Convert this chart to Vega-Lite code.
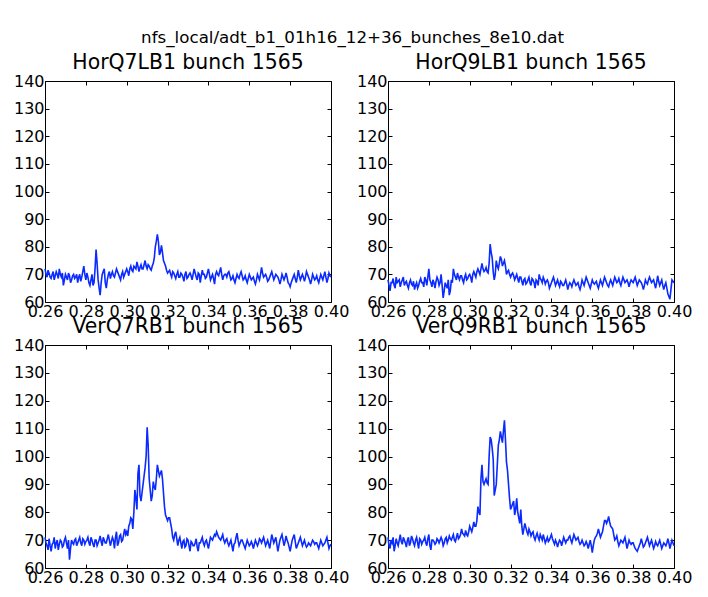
{
"$schema": "https://vega.github.io/schema/vega-lite/v6.json",
"padding": {"left": 12, "top": 29, "right": 5, "bottom": 5},
"background": "white",
"title": {"text": "nfs_local/adt_b1_01h16_12+36_bunches_8e10.dat", "fontSize": 16.7, "anchor": "middle", "baseline": "alphabetic", "offset": -6.7},
"data": {"values": [
{"x":0.260,"a":72,"b":68,"c":71,"d":71},
{"x":0.261,"a":69,"b":64,"c":68,"d":67},
{"x":0.262,"a":70.5,"b":67,"c":70.5,"d":69},
{"x":0.263,"a":68.5,"b":66,"c":66,"d":66},
{"x":0.264,"a":71,"b":69,"c":69,"d":70.5},
{"x":0.265,"a":69.5,"b":67.5,"c":67,"d":68},
{"x":0.266,"a":70,"b":65.5,"c":70,"d":72},
{"x":0.267,"a":72,"b":68,"c":68.5,"d":68.5},
{"x":0.268,"a":69,"b":66,"c":69.5,"d":70},
{"x":0.269,"a":66,"b":67.5,"c":68,"d":67.5},
{"x":0.270,"a":70,"b":65,"c":71,"d":71},
{"x":0.271,"a":68,"b":68,"c":67,"d":69},
{"x":0.272,"a":69.5,"b":66,"c":63,"d":70.5},
{"x":0.273,"a":68,"b":64.5,"c":70,"d":68},
{"x":0.274,"a":70,"b":67,"c":68.5,"d":71},
{"x":0.275,"a":69,"b":66,"c":70.5,"d":67},
{"x":0.276,"a":67,"b":68.5,"c":69,"d":70},
{"x":0.277,"a":70,"b":67,"c":71,"d":69.5},
{"x":0.278,"a":69,"b":69,"c":68,"d":71},
{"x":0.279,"a":73,"b":66,"c":70,"d":68},
{"x":0.280,"a":68,"b":72,"c":69.5,"d":72},
{"x":0.281,"a":69,"b":67,"c":71,"d":66.5},
{"x":0.282,"a":66,"b":68,"c":68,"d":70},
{"x":0.283,"a":70,"b":65,"c":70,"d":68.5},
{"x":0.284,"a":67,"b":69,"c":67.5,"d":70.5},
{"x":0.285,"a":79,"b":66,"c":70,"d":69},
{"x":0.286,"a":68,"b":70,"c":69,"d":71},
{"x":0.287,"a":62.5,"b":61.5,"c":71.5,"d":68},
{"x":0.288,"a":70,"b":67,"c":68,"d":70.5},
{"x":0.289,"a":72,"b":65,"c":70,"d":69},
{"x":0.290,"a":65,"b":62.5,"c":69,"d":71.5},
{"x":0.291,"a":70,"b":68,"c":72,"d":70},
{"x":0.292,"a":68.5,"b":72,"c":68,"d":72},
{"x":0.293,"a":71,"b":69,"c":71,"d":69.5},
{"x":0.294,"a":69,"b":70.5,"c":67,"d":72.5},
{"x":0.295,"a":72,"b":68,"c":73,"d":71},
{"x":0.296,"a":70,"b":69.5,"c":69,"d":74},
{"x":0.297,"a":68,"b":67,"c":72,"d":72},
{"x":0.298,"a":71,"b":70,"c":70,"d":73.5},
{"x":0.299,"a":70,"b":68.5,"c":74,"d":71.5},
{"x":0.300,"a":72,"b":70,"c":73,"d":75},
{"x":0.301,"a":69.5,"b":67,"c":75,"d":73},
{"x":0.302,"a":73,"b":71,"c":78,"d":76.5},
{"x":0.303,"a":71,"b":69,"c":74,"d":75},
{"x":0.304,"a":72.5,"b":72,"c":88,"d":82},
{"x":0.305,"a":74.5,"b":70,"c":81,"d":79},
{"x":0.306,"a":71,"b":74,"c":97,"d":97},
{"x":0.307,"a":73.5,"b":71,"c":84,"d":90},
{"x":0.308,"a":72,"b":72.5,"c":90,"d":92},
{"x":0.309,"a":75,"b":70.5,"c":96,"d":90},
{"x":0.310,"a":72,"b":81,"c":110.5,"d":107},
{"x":0.311,"a":73,"b":76,"c":92,"d":103},
{"x":0.312,"a":71.5,"b":68,"c":84,"d":86},
{"x":0.313,"a":74,"b":75,"c":91,"d":90},
{"x":0.314,"a":80,"b":72,"c":88,"d":104},
{"x":0.315,"a":84.5,"b":76.5,"c":97,"d":109},
{"x":0.316,"a":77,"b":73,"c":93,"d":105},
{"x":0.317,"a":80.5,"b":75,"c":95,"d":113},
{"x":0.318,"a":75,"b":70,"c":87,"d":98},
{"x":0.319,"a":73,"b":71.5,"c":79,"d":90},
{"x":0.320,"a":70.5,"b":69,"c":77,"d":81},
{"x":0.321,"a":71.5,"b":70.5,"c":78,"d":83},
{"x":0.322,"a":69,"b":68,"c":74,"d":79},
{"x":0.323,"a":70.5,"b":70,"c":70,"d":85},
{"x":0.324,"a":68.5,"b":67,"c":73,"d":78},
{"x":0.325,"a":71,"b":69,"c":68,"d":81},
{"x":0.326,"a":69,"b":66,"c":71,"d":72},
{"x":0.327,"a":70,"b":68.5,"c":67,"d":76},
{"x":0.328,"a":67.5,"b":67,"c":70,"d":73},
{"x":0.329,"a":71,"b":69,"c":68,"d":74},
{"x":0.330,"a":69,"b":66,"c":70,"d":71.5},
{"x":0.331,"a":70.5,"b":68,"c":66,"d":73},
{"x":0.332,"a":68,"b":65,"c":69,"d":70},
{"x":0.333,"a":72,"b":67.5,"c":68,"d":72.5},
{"x":0.334,"a":69,"b":70,"c":70.5,"d":70},
{"x":0.335,"a":70.5,"b":68,"c":66,"d":71},
{"x":0.336,"a":67,"b":69,"c":69,"d":72},
{"x":0.337,"a":71.5,"b":66.5,"c":71,"d":69},
{"x":0.338,"a":70,"b":68,"c":68,"d":71},
{"x":0.339,"a":69,"b":65,"c":70,"d":70},
{"x":0.340,"a":72,"b":67,"c":67,"d":72},
{"x":0.341,"a":68,"b":69,"c":71,"d":69.5},
{"x":0.342,"a":70,"b":66,"c":70,"d":70},
{"x":0.343,"a":66.5,"b":68,"c":72,"d":67.5},
{"x":0.344,"a":71,"b":65.5,"c":73,"d":70},
{"x":0.345,"a":69.5,"b":67,"c":71,"d":68},
{"x":0.346,"a":72.5,"b":66,"c":70,"d":71},
{"x":0.347,"a":68,"b":68,"c":72,"d":69},
{"x":0.348,"a":70,"b":64.5,"c":69,"d":70},
{"x":0.349,"a":69,"b":67,"c":70.5,"d":71.5},
{"x":0.350,"a":71,"b":65.5,"c":68,"d":69},
{"x":0.351,"a":68,"b":68,"c":70,"d":72},
{"x":0.352,"a":69.5,"b":66,"c":66,"d":70},
{"x":0.353,"a":67,"b":67,"c":69,"d":71},
{"x":0.354,"a":70,"b":64.5,"c":72.5,"d":68.5},
{"x":0.355,"a":68.5,"b":68,"c":68,"d":70},
{"x":0.356,"a":71,"b":66,"c":70,"d":68},
{"x":0.357,"a":68,"b":69,"c":69,"d":69.5},
{"x":0.358,"a":69.5,"b":67,"c":67,"d":67},
{"x":0.359,"a":67,"b":65,"c":70,"d":70},
{"x":0.360,"a":70,"b":68,"c":68,"d":65.5},
{"x":0.361,"a":68,"b":66.5,"c":69.5,"d":70},
{"x":0.362,"a":69,"b":67.5,"c":67,"d":71.5},
{"x":0.363,"a":66.5,"b":65,"c":70,"d":74},
{"x":0.364,"a":70,"b":68,"c":68,"d":71},
{"x":0.365,"a":68,"b":66,"c":70.5,"d":73},
{"x":0.366,"a":72.5,"b":69,"c":69,"d":77},
{"x":0.367,"a":69,"b":67,"c":71,"d":76},
{"x":0.368,"a":70,"b":65.5,"c":68,"d":78.5},
{"x":0.369,"a":67.5,"b":68,"c":70,"d":75},
{"x":0.370,"a":69,"b":66,"c":67,"d":74},
{"x":0.371,"a":71,"b":69,"c":72,"d":70},
{"x":0.372,"a":68,"b":67,"c":69,"d":71.5},
{"x":0.373,"a":70,"b":68.5,"c":71,"d":68},
{"x":0.374,"a":69,"b":66,"c":66,"d":70},
{"x":0.375,"a":66.5,"b":69,"c":70,"d":69},
{"x":0.376,"a":70,"b":67,"c":72,"d":71},
{"x":0.377,"a":68,"b":68,"c":68,"d":67},
{"x":0.378,"a":70.5,"b":65.5,"c":71.5,"d":70},
{"x":0.379,"a":67,"b":68,"c":69,"d":68.5},
{"x":0.380,"a":65.5,"b":67,"c":66,"d":69},
{"x":0.381,"a":68,"b":69,"c":70,"d":67},
{"x":0.382,"a":70,"b":66,"c":72,"d":66},
{"x":0.383,"a":67,"b":68,"c":67,"d":68},
{"x":0.384,"a":71.5,"b":67,"c":69,"d":70.5},
{"x":0.385,"a":68,"b":64.5,"c":71,"d":67.5},
{"x":0.386,"a":70,"b":68,"c":68,"d":69},
{"x":0.387,"a":67.5,"b":66.5,"c":70,"d":71},
{"x":0.388,"a":71,"b":69,"c":67.5,"d":68},
{"x":0.389,"a":69,"b":67,"c":69,"d":70},
{"x":0.390,"a":66.5,"b":68,"c":68,"d":67},
{"x":0.391,"a":70,"b":65,"c":70,"d":69.5},
{"x":0.392,"a":68,"b":69.5,"c":68.5,"d":68},
{"x":0.393,"a":69.5,"b":66,"c":69,"d":70},
{"x":0.394,"a":67,"b":68,"c":67,"d":67},
{"x":0.395,"a":70,"b":64.5,"c":70,"d":69},
{"x":0.396,"a":68,"b":67,"c":68,"d":68},
{"x":0.397,"a":71,"b":63,"c":69,"d":70.5},
{"x":0.398,"a":67,"b":61,"c":71,"d":67},
{"x":0.399,"a":70.5,"b":68,"c":67,"d":70},
{"x":0.400,"a":69,"b":67,"c":68.5,"d":68},
{"x":0.2605,"a":70,"b":66,"c":69,"d":68},
{"x":0.2615,"a":71.5,"b":67,"c":66.5,"d":70},
{"x":0.2625,"a":69,"b":68.5,"c":68,"d":71},
{"x":0.2635,"a":70,"b":65,"c":68.5,"d":68},
{"x":0.2645,"a":68,"b":67,"c":71,"d":69},
{"x":0.2655,"a":71,"b":68,"c":69,"d":70},
{"x":0.2665,"a":68.5,"b":67,"c":66.5,"d":69.5},
{"x":0.2675,"a":70,"b":69,"c":70,"d":71},
{"x":0.2685,"a":70.5,"b":67,"c":67.5,"d":69},
{"x":0.2695,"a":68,"b":66,"c":70,"d":70},
{"x":0.2705,"a":69,"b":67,"c":69,"d":68},
{"x":0.2715,"a":70.5,"b":66.5,"c":70,"d":71.5},
{"x":0.2725,"a":67,"b":67.5,"c":67,"d":69},
{"x":0.2735,"a":69.5,"b":66,"c":69,"d":70},
{"x":0.2745,"a":68.5,"b":65,"c":70,"d":69},
{"x":0.2755,"a":70,"b":67.5,"c":68,"d":70.5},
{"x":0.2765,"a":69,"b":67,"c":70,"d":68.5},
{"x":0.2775,"a":67.5,"b":65.5,"c":69,"d":70},
{"x":0.2785,"a":71,"b":68,"c":70.5,"d":69},
{"x":0.2795,"a":70,"b":69,"c":68.5,"d":70.5},
{"x":0.2805,"a":70.5,"b":68,"c":70,"d":68},
{"x":0.2815,"a":67,"b":65.5,"c":69,"d":70},
{"x":0.2825,"a":68,"b":67,"c":71,"d":69.5},
{"x":0.2835,"a":66,"b":67.5,"c":68.5,"d":69},
{"x":0.2845,"a":72,"b":68,"c":70,"d":70},
{"x":0.2855,"a":74,"b":67,"c":68,"d":70},
{"x":0.2865,"a":65,"b":66,"c":70,"d":70},
{"x":0.2875,"a":67,"b":64,"c":69.5,"d":69},
{"x":0.2885,"a":71,"b":66,"c":71,"d":71},
{"x":0.2895,"a":67,"b":68,"c":69,"d":70},
{"x":0.2905,"a":68,"b":64,"c":70.5,"d":70.5},
{"x":0.2915,"a":71,"b":67,"c":70,"d":71},
{"x":0.2925,"a":70,"b":70,"c":69.5,"d":70},
{"x":0.2935,"a":69.5,"b":68,"c":70,"d":71},
{"x":0.2945,"a":70.5,"b":69,"c":71,"d":70.5},
{"x":0.2955,"a":71,"b":69.5,"c":68,"d":72},
{"x":0.2965,"a":69,"b":68,"c":71.5,"d":72.5},
{"x":0.2975,"a":70,"b":69,"c":69.5,"d":71.5},
{"x":0.2985,"a":69,"b":68,"c":72,"d":72},
{"x":0.2995,"a":71,"b":69.5,"c":72,"d":73},
{"x":0.3005,"a":71,"b":69,"c":71.5,"d":74},
{"x":0.3015,"a":72,"b":70,"c":76,"d":74.5},
{"x":0.3025,"a":71.5,"b":70,"c":77.5,"d":75},
{"x":0.3035,"a":73,"b":71,"c":80,"d":77},
{"x":0.3045,"a":72,"b":71,"c":85,"d":80},
{"x":0.3055,"a":73,"b":72,"c":94,"d":92},
{"x":0.3065,"a":72.5,"b":72,"c":86,"d":91},
{"x":0.3075,"a":72,"b":71.5,"c":87,"d":91},
{"x":0.3085,"a":73.5,"b":71,"c":93,"d":90.5},
{"x":0.3095,"a":73,"b":74,"c":100,"d":100},
{"x":0.3105,"a":73.5,"b":78,"c":104,"d":106},
{"x":0.3115,"a":72,"b":71,"c":88,"d":99},
{"x":0.3125,"a":73,"b":70,"c":86,"d":88},
{"x":0.3135,"a":76,"b":73,"c":89,"d":97},
{"x":0.3145,"a":82,"b":74,"c":92,"d":106},
{"x":0.3155,"a":82,"b":75.5,"c":95,"d":107},
{"x":0.3165,"a":78,"b":74,"c":94,"d":109},
{"x":0.3175,"a":78,"b":73,"c":92,"d":106},
{"x":0.3185,"a":74,"b":71,"c":82,"d":95},
{"x":0.3195,"a":71.5,"b":70,"c":78,"d":85},
{"x":0.3205,"a":71,"b":70,"c":78,"d":82},
{"x":0.3215,"a":70,"b":69.5,"c":76,"d":84},
{"x":0.3225,"a":71,"b":69,"c":71,"d":81},
{"x":0.3235,"a":69.5,"b":68.5,"c":72,"d":80},
{"x":0.3245,"a":70,"b":69,"c":70.5,"d":76},
{"x":0.3255,"a":69,"b":67.5,"c":70,"d":75},
{"x":0.3265,"a":70.5,"b":68,"c":69,"d":74},
{"x":0.3275,"a":69,"b":66.5,"c":69.5,"d":74.5},
{"x":0.3285,"a":70,"b":68,"c":67.5,"d":72},
{"x":0.3295,"a":68.5,"b":67,"c":70.5,"d":73},
{"x":0.3305,"a":70,"b":68.5,"c":68,"d":72.5},
{"x":0.3315,"a":69.5,"b":67,"c":69.5,"d":71},
{"x":0.3325,"a":70,"b":68,"c":68,"d":71.5},
{"x":0.3335,"a":70.5,"b":66,"c":69,"d":71},
{"x":0.3345,"a":68,"b":68.5,"c":67.5,"d":72},
{"x":0.3355,"a":70,"b":67,"c":69,"d":70},
{"x":0.3365,"a":69.5,"b":68,"c":70,"d":70.5},
{"x":0.3375,"a":70,"b":67.5,"c":69,"d":70},
{"x":0.3385,"a":68.5,"b":67,"c":69.5,"d":69.5},
{"x":0.3395,"a":70.5,"b":66,"c":68.5,"d":71},
{"x":0.3405,"a":70,"b":68,"c":69,"d":70.5},
{"x":0.3415,"a":69,"b":67.5,"c":70.5,"d":68.5},
{"x":0.3425,"a":68.5,"b":67,"c":71,"d":69},
{"x":0.3435,"a":70,"b":66.5,"c":71.5,"d":69},
{"x":0.3445,"a":70,"b":67.5,"c":72,"d":69.5},
{"x":0.3455,"a":71,"b":66,"c":70.5,"d":69.5},
{"x":0.3465,"a":70,"b":67,"c":71,"d":70},
{"x":0.3475,"a":69.5,"b":66.5,"c":70,"d":70},
{"x":0.3485,"a":70,"b":66,"c":70,"d":71},
{"x":0.3495,"a":70.5,"b":66.5,"c":69,"d":70},
{"x":0.3505,"a":69.5,"b":67,"c":69,"d":70.5},
{"x":0.3515,"a":68.5,"b":67,"c":68,"d":71},
{"x":0.3525,"a":68,"b":66.5,"c":68.5,"d":70.5},
{"x":0.3535,"a":68.5,"b":65.5,"c":71,"d":69.5},
{"x":0.3545,"a":69,"b":66,"c":70,"d":69},
{"x":0.3555,"a":70,"b":67,"c":69,"d":69},
{"x":0.3565,"a":69.5,"b":67.5,"c":70,"d":68.5},
{"x":0.3575,"a":68.5,"b":68,"c":68,"d":68.5},
{"x":0.3585,"a":68,"b":66,"c":68.5,"d":68.5},
{"x":0.3595,"a":68.5,"b":66.5,"c":69,"d":68},
{"x":0.3605,"a":69,"b":67,"c":68.5,"d":68},
{"x":0.3615,"a":68.5,"b":67,"c":68.5,"d":71},
{"x":0.3625,"a":67.5,"b":66,"c":68.5,"d":72.5},
{"x":0.3635,"a":68,"b":66.5,"c":69,"d":72.5},
{"x":0.3645,"a":69,"b":67,"c":69,"d":72},
{"x":0.3655,"a":70,"b":67.5,"c":70,"d":75},
{"x":0.3665,"a":70.5,"b":68,"c":70,"d":77},
{"x":0.3675,"a":69.5,"b":66,"c":69.5,"d":77},
{"x":0.3685,"a":69,"b":67,"c":69,"d":76.5},
{"x":0.3695,"a":68,"b":67,"c":68.5,"d":74.5},
{"x":0.3705,"a":70,"b":67.5,"c":69.5,"d":72},
{"x":0.3715,"a":69.5,"b":68,"c":70.5,"d":70.5},
{"x":0.3725,"a":69,"b":67.5,"c":70,"d":69.5},
{"x":0.3735,"a":69.5,"b":67,"c":68.5,"d":69},
{"x":0.3745,"a":68,"b":67.5,"c":68,"d":69.5},
{"x":0.3755,"a":68,"b":68,"c":71,"d":70},
{"x":0.3765,"a":69,"b":67.5,"c":70,"d":69},
{"x":0.3775,"a":69,"b":67,"c":69.5,"d":68.5},
{"x":0.3785,"a":69,"b":67,"c":70,"d":69},
{"x":0.3795,"a":66.5,"b":67.5,"c":67.5,"d":69},
{"x":0.3805,"a":67,"b":68,"c":68,"d":68},
{"x":0.3815,"a":69,"b":67.5,"c":71,"d":66.5},
{"x":0.3825,"a":68.5,"b":67,"c":69.5,"d":67},
{"x":0.3835,"a":69,"b":67.5,"c":68,"d":69},
{"x":0.3845,"a":69.5,"b":66,"c":70,"d":69},
{"x":0.3855,"a":69,"b":66,"c":69.5,"d":68},
{"x":0.3865,"a":69,"b":67,"c":69,"d":70},
{"x":0.3875,"a":69,"b":68,"c":68.5,"d":69.5},
{"x":0.3885,"a":70,"b":68,"c":68,"d":69},
{"x":0.3895,"a":68,"b":67.5,"c":68.5,"d":68.5},
{"x":0.3905,"a":68,"b":66.5,"c":69,"d":68},
{"x":0.3915,"a":69,"b":67,"c":69.5,"d":68.5},
{"x":0.3925,"a":68.5,"b":67.5,"c":69,"d":69},
{"x":0.3935,"a":68,"b":67,"c":68,"d":68.5},
{"x":0.3945,"a":68.5,"b":66,"c":68.5,"d":68},
{"x":0.3955,"a":69,"b":66,"c":69,"d":68.5},
{"x":0.3965,"a":69.5,"b":65,"c":68.5,"d":69},
{"x":0.3975,"a":69,"b":62,"c":70,"d":69},
{"x":0.3985,"a":68.5,"b":64.5,"c":69,"d":68.5},
{"x":0.3995,"a":69.5,"b":67.5,"c":68,"d":69}
]},
"columns": 2,
"spacing": {"row": 43, "column": 57},
"bounds": "flush",
"concat": [
{"title": "HorQ7LB1 bunch 1565", "width": 286, "height": 221,
 "layer": [
  {"mark": {"type": "line", "color": "#0a2aff", "strokeWidth": 1.6},
   "encoding": {
    "x": {"field": "x", "type": "quantitative", "scale": {"domain": [0.26, 0.4], "nice": false, "zero": false}, "axis": {"orient": "bottom", "title": null, "format": ".2f", "values": [0.26,0.28,0.3,0.32,0.34,0.36,0.38,0.4]}},
    "y": {"field": "a", "type": "quantitative", "scale": {"domain": [60, 140], "nice": false, "zero": false}, "axis": {"orient": "left", "title": null, "values": [60,70,80,90,100,110,120,130,140]}}}},
  {"mark": {"type": "line", "strokeOpacity": 0},
   "encoding": {
    "x": {"field": "x", "type": "quantitative", "axis": {"orient": "top", "title": null, "labels": false, "values": [0.26,0.28,0.3,0.32,0.34,0.36,0.38,0.4]}},
    "y": {"field": "a", "type": "quantitative", "axis": {"orient": "right", "title": null, "labels": false, "values": [60,70,80,90,100,110,120,130,140]}}}}
 ],
 "resolve": {"axis": {"x": "independent", "y": "independent"}}},
{"title": "HorQ9LB1 bunch 1565", "width": 286, "height": 221,
 "layer": [
  {"mark": {"type": "line", "color": "#0a2aff", "strokeWidth": 1.6},
   "encoding": {
    "x": {"field": "x", "type": "quantitative", "scale": {"domain": [0.26, 0.4], "nice": false, "zero": false}, "axis": {"orient": "bottom", "title": null, "format": ".2f", "values": [0.26,0.28,0.3,0.32,0.34,0.36,0.38,0.4]}},
    "y": {"field": "b", "type": "quantitative", "scale": {"domain": [60, 140], "nice": false, "zero": false}, "axis": {"orient": "left", "title": null, "values": [60,70,80,90,100,110,120,130,140]}}}},
  {"mark": {"type": "line", "strokeOpacity": 0},
   "encoding": {
    "x": {"field": "x", "type": "quantitative", "axis": {"orient": "top", "title": null, "labels": false, "values": [0.26,0.28,0.3,0.32,0.34,0.36,0.38,0.4]}},
    "y": {"field": "b", "type": "quantitative", "axis": {"orient": "right", "title": null, "labels": false, "values": [60,70,80,90,100,110,120,130,140]}}}}
 ],
 "resolve": {"axis": {"x": "independent", "y": "independent"}}},
{"title": "VerQ7RB1 bunch 1565", "width": 286, "height": 223,
 "layer": [
  {"mark": {"type": "line", "color": "#0a2aff", "strokeWidth": 1.6},
   "encoding": {
    "x": {"field": "x", "type": "quantitative", "scale": {"domain": [0.26, 0.4], "nice": false, "zero": false}, "axis": {"orient": "bottom", "title": null, "format": ".2f", "values": [0.26,0.28,0.3,0.32,0.34,0.36,0.38,0.4]}},
    "y": {"field": "c", "type": "quantitative", "scale": {"domain": [60, 140], "nice": false, "zero": false}, "axis": {"orient": "left", "title": null, "values": [60,70,80,90,100,110,120,130,140]}}}},
  {"mark": {"type": "line", "strokeOpacity": 0},
   "encoding": {
    "x": {"field": "x", "type": "quantitative", "axis": {"orient": "top", "title": null, "labels": false, "values": [0.26,0.28,0.3,0.32,0.34,0.36,0.38,0.4]}},
    "y": {"field": "c", "type": "quantitative", "axis": {"orient": "right", "title": null, "labels": false, "values": [60,70,80,90,100,110,120,130,140]}}}}
 ],
 "resolve": {"axis": {"x": "independent", "y": "independent"}}},
{"title": "VerQ9RB1 bunch 1565", "width": 286, "height": 223,
 "layer": [
  {"mark": {"type": "line", "color": "#0a2aff", "strokeWidth": 1.6},
   "encoding": {
    "x": {"field": "x", "type": "quantitative", "scale": {"domain": [0.26, 0.4], "nice": false, "zero": false}, "axis": {"orient": "bottom", "title": null, "format": ".2f", "values": [0.26,0.28,0.3,0.32,0.34,0.36,0.38,0.4]}},
    "y": {"field": "d", "type": "quantitative", "scale": {"domain": [60, 140], "nice": false, "zero": false}, "axis": {"orient": "left", "title": null, "values": [60,70,80,90,100,110,120,130,140]}}}},
  {"mark": {"type": "line", "strokeOpacity": 0},
   "encoding": {
    "x": {"field": "x", "type": "quantitative", "axis": {"orient": "top", "title": null, "labels": false, "values": [0.26,0.28,0.3,0.32,0.34,0.36,0.38,0.4]}},
    "y": {"field": "d", "type": "quantitative", "axis": {"orient": "right", "title": null, "labels": false, "values": [60,70,80,90,100,110,120,130,140]}}}}
 ],
 "resolve": {"axis": {"x": "independent", "y": "independent"}}}
],
"config": {
 "view": {"stroke": "black", "strokeWidth": 1},
 "axis": {"domain": false, "grid": false, "tickSize": -4, "tickColor": "black", "tickWidth": 1, "labelColor": "black", "labelFont": "DejaVu Sans", "labelFontSize": 16, "labelPadding": 5, "labelFlush": false, "labelOverlap": false},
 "title": {"font": "DejaVu Sans", "fontSize": 20.4, "fontWeight": "normal", "color": "black", "anchor": "middle", "baseline": "alphabetic", "offset": -0.7}
}
}
